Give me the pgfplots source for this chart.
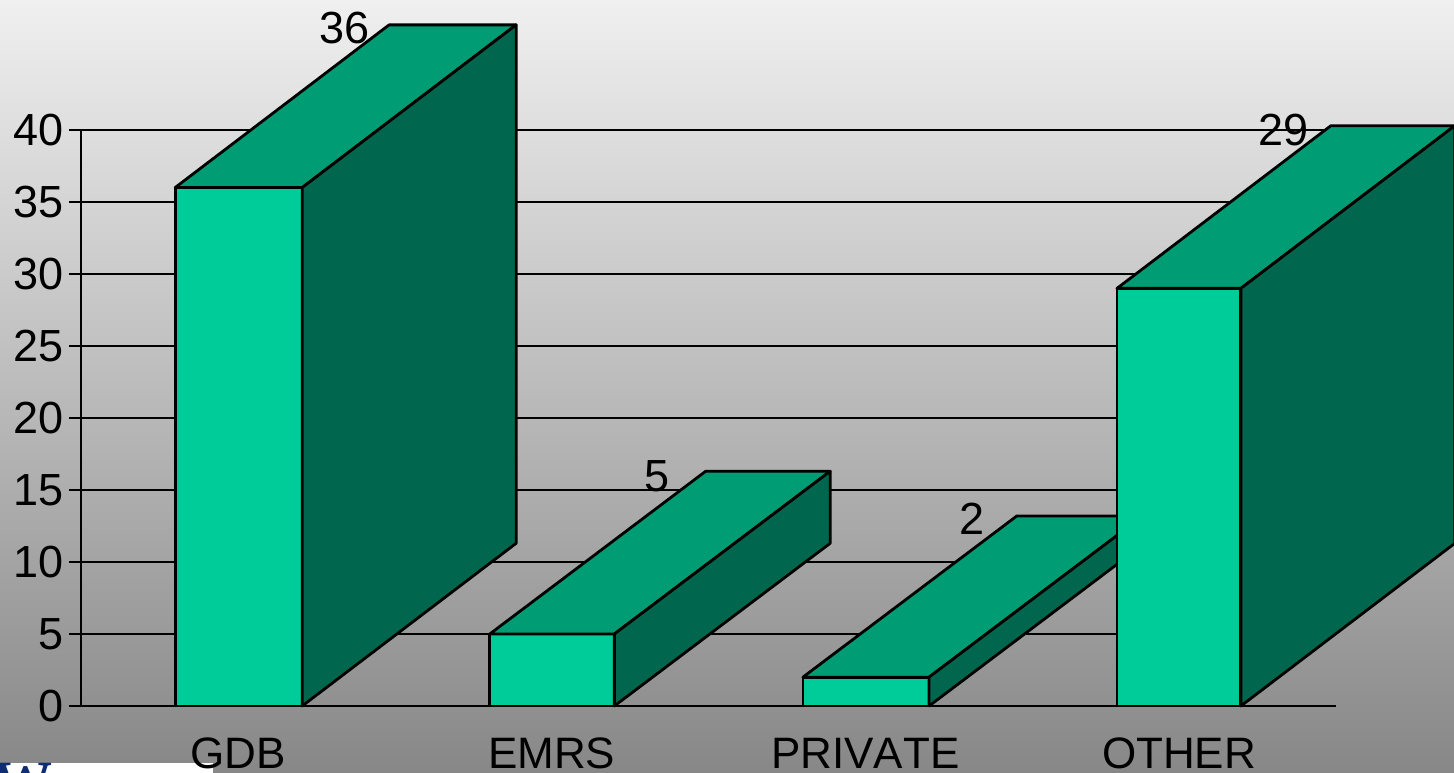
\documentclass[border=0pt]{standalone}
\usepackage{fontspec}
\setmainfont[Kerning=Off]{Liberation Sans}
\newfontfamily\logofont{Liberation Serif}[Scale=1]
\usepackage{pgfplots}
\pgfplotsset{compat=1.18}
\definecolor{barfront}{RGB}{0,204,153}
\definecolor{bartop}{RGB}{0,156,115}
\definecolor{barside}{RGB}{0,102,77}
\definecolor{logoblue}{RGB}{15,45,115}
\pgfplotsset{
  front/.style={fill=barfront,draw=black,line width=2.8pt,line join=round,no markers},
  top/.style={fill=bartop,draw=black,line width=2.8pt,line join=round,no markers},
  side/.style={fill=barside,draw=black,line width=2.8pt,line join=round,no markers},
}
\begin{document}
\begin{tikzpicture}[x=1pt,y=1pt]
\useasboundingbox (0,0) rectangle (1454,773);
% slide background and the cut off logo
\shade[top color=black!6,bottom color=black!47] (0,0) rectangle (1454,773);
\fill[white] (0,0) rectangle (213,10);
\begin{scope}
\clip (0,0) rectangle (213,10);
\node[anchor=north east,inner sep=0pt,text=logoblue,font=\fontsize{60}{60}\selectfont\logofont\bfseries] at (53,10) {W};
\end{scope}
\begin{axis}[
  at={(81pt,67pt)}, anchor=south west,
  scale only axis, width=1255pt, height=576pt,
  xmin=-0.5, xmax=3.5, ymin=0, ymax=40,
  clip=false,
  axis x line*=bottom, axis y line*=left,
  axis line style={-,line width=2.2pt,black},
  xtick={0,1,2,3},
  xticklabels={GDB,EMRS,PRIVATE,OTHER},
  ytick={0,5,...,40},
  ymajorgrids,
  major grid style={black,line width=2.2pt},
  tick align=outside,
  major tick length=12pt,
  x tick style={draw=none},
  y tick style={black,line width=2.2pt},
  tick label style={font=\fontsize{45}{46}\selectfont},
  /pgf/number format/assume math mode=true,
  xticklabel style={anchor=center,text height=30pt,text depth=0pt,yshift=-35.5pt,font=\fontsize{44}{46}\selectfont},
  yticklabel style={anchor=east,xshift=-2pt},
]
% value labels
\addplot[draw=none,no markers,point meta=explicit symbolic,nodes near coords,
  every node near coord/.append style={anchor=center,inner sep=0pt,font=\fontsize{45}{46}\selectfont}]
  coordinates {(0.3413,47.08)[36] (1.336,15.97)[5] (2.34,12.99)[2] (3.334,40.0)[29]};
% GDB
\addplot[front] coordinates {(-0.2,0) (0.205,0) (0.205,36) (-0.2,36)} -- cycle;
\addplot[top] coordinates {(-0.2,36) (0.205,36) (0.887,47.3) (0.482,47.3)} -- cycle;
\addplot[side] coordinates {(0.205,0) (0.887,11.3) (0.887,47.3) (0.205,36)} -- cycle;
% EMRS
\addplot[front] coordinates {(0.803,0) (1.2,0) (1.2,5) (0.803,5)} -- cycle;
\addplot[top] coordinates {(0.803,5) (1.2,5) (1.888,16.3) (1.491,16.3)} -- cycle;
\addplot[side] coordinates {(1.2,0) (1.888,11.3) (1.888,16.3) (1.2,5)} -- cycle;
% PRIVATE
\addplot[front] coordinates {(1.801,0) (2.203,0) (2.203,2) (1.801,2)} -- cycle;
\addplot[top] coordinates {(1.801,2) (2.203,2) (2.885,13.2) (2.483,13.2)} -- cycle;
\addplot[side] coordinates {(2.203,0) (2.885,11.2) (2.885,13.2) (2.203,2)} -- cycle;
% OTHER
\addplot[front] coordinates {(2.802,0) (3.197,0) (3.197,29) (2.802,29)} -- cycle;
\addplot[top] coordinates {(2.802,29) (3.197,29) (3.879,40.3) (3.484,40.3)} -- cycle;
\addplot[side] coordinates {(3.197,0) (3.879,11.3) (3.879,40.3) (3.197,29)} -- cycle;
\end{axis}
\end{tikzpicture}
\end{document}
